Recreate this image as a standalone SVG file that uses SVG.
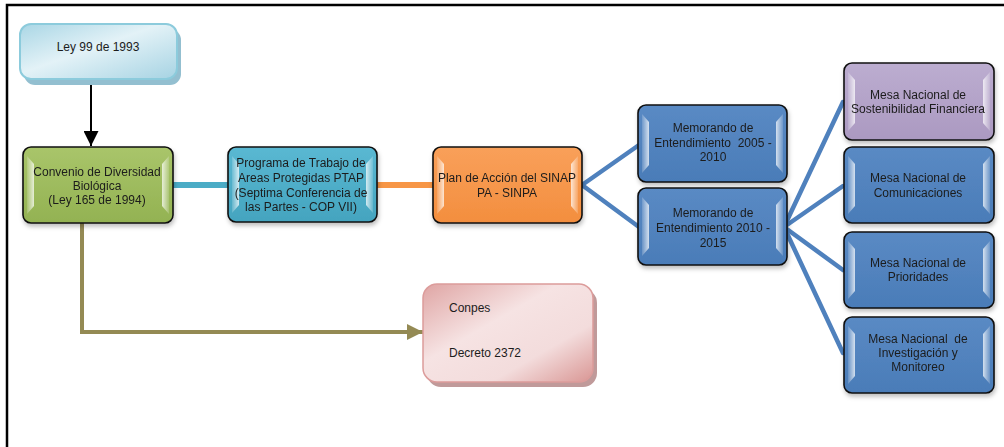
<svg xmlns="http://www.w3.org/2000/svg" width="1004" height="447" viewBox="0 0 1004 447">
  <defs>
    <style>
      .lbl { font-family: "Liberation Sans", Arial, sans-serif; font-size: 12px; fill: #1c1c1c; text-anchor: middle; white-space: pre; }
      .lbl-l { font-family: "Liberation Sans", Arial, sans-serif; font-size: 12px; fill: #1c1c1c; }
      .box { stroke: #111; stroke-width: 1.6; }
      .hl { fill: url(#shine); }
      .hr { fill: url(#shineR); }
    </style>
    <linearGradient id="shine" x1="0" y1="0" x2="1" y2="0">
      <stop offset="0" stop-color="#fff" stop-opacity="0.15"/>
      <stop offset="1" stop-color="#fff" stop-opacity="0.75"/>
    </linearGradient>
    <linearGradient id="shineR" x1="1" y1="0" x2="0" y2="0">
      <stop offset="0" stop-color="#fff" stop-opacity="0.15"/>
      <stop offset="1" stop-color="#fff" stop-opacity="0.75"/>
    </linearGradient>
    <linearGradient id="gGreen" x1="0" y1="0" x2="0" y2="1">
      <stop offset="0" stop-color="#a9c56a"/>
      <stop offset="1" stop-color="#93b252"/>
    </linearGradient>
    <linearGradient id="gTeal" x1="0" y1="0" x2="0" y2="1">
      <stop offset="0" stop-color="#5ab8d2"/>
      <stop offset="1" stop-color="#44a4bf"/>
    </linearGradient>
    <linearGradient id="gOrange" x1="0" y1="0" x2="0" y2="1">
      <stop offset="0" stop-color="#f9a05a"/>
      <stop offset="1" stop-color="#f38e3e"/>
    </linearGradient>
    <linearGradient id="gBlue" x1="0" y1="0" x2="0" y2="1">
      <stop offset="0" stop-color="#5a8ac4"/>
      <stop offset="1" stop-color="#4a7cb8"/>
    </linearGradient>
    <linearGradient id="gPurple" x1="0" y1="0" x2="0" y2="1">
      <stop offset="0" stop-color="#bcadd0"/>
      <stop offset="1" stop-color="#ab99c1"/>
    </linearGradient>
    <linearGradient id="gSky" x1="0" y1="0" x2="1" y2="1">
      <stop offset="0" stop-color="#a9d6e5"/>
      <stop offset="0.45" stop-color="#e3f2f7"/>
      <stop offset="1" stop-color="#a6d3e3"/>
    </linearGradient>
    <linearGradient id="gPink" x1="0" y1="0" x2="1" y2="1">
      <stop offset="0" stop-color="#dfa5a4"/>
      <stop offset="0.4" stop-color="#f6e3e3"/>
      <stop offset="0.7" stop-color="#f3dcdc"/>
      <stop offset="1" stop-color="#d99694"/>
    </linearGradient>
    <filter id="drop" x="-10%" y="-10%" width="125%" height="130%">
      <feDropShadow dx="1" dy="3" stdDeviation="2" flood-color="#000" flood-opacity="0.25"/>
    </filter>
    <marker id="arrowBlack" viewBox="0 0 10 10" refX="10" refY="5" markerWidth="15" markerHeight="15" markerUnits="userSpaceOnUse" orient="auto">
      <path d="M0,0 L10,5 L0,10 Z" fill="#000"/>
    </marker>
    <marker id="arrowOlive" viewBox="0 0 10 10" refX="10" refY="5" markerWidth="16" markerHeight="16" markerUnits="userSpaceOnUse" orient="auto">
      <path d="M0,0 L10,5 L0,10 Z" fill="#948a54"/>
    </marker>
  </defs>

  <!-- page frame -->
  <path d="M7,447 V5 H1004" fill="none" stroke="#000" stroke-width="2.5"/>

  <!-- connectors -->
  <g id="connectors" fill="none">
    <line x1="91" y1="79" x2="91" y2="146" stroke="#000" stroke-width="2" marker-end="url(#arrowBlack)"/>
    <line x1="173" y1="185" x2="228" y2="185" stroke="#4bacc6" stroke-width="6"/>
    <line x1="377" y1="185" x2="433" y2="185" stroke="#f79646" stroke-width="6"/>
    <polyline points="82,223 82,332 423,332" stroke="#948a54" stroke-width="4" marker-end="url(#arrowOlive)"/>
    <g stroke="#4f81bd" stroke-width="4.5" stroke-linecap="round">
      <line x1="582" y1="185" x2="639" y2="145"/>
      <line x1="582" y1="185" x2="639" y2="227"/>
      <line x1="784" y1="227" x2="843" y2="102"/>
      <line x1="784" y1="227" x2="843" y2="186"/>
      <line x1="784" y1="227" x2="843" y2="270"/>
      <line x1="784" y1="227" x2="843" y2="353"/>
    </g>
  </g>

  <!-- Ley 99 de 1993 -->
  <g id="ley99">
    <rect x="24" y="29" width="157" height="56" rx="11" fill="#93bfd0"/>
    <rect x="20" y="24" width="157" height="55" rx="11" fill="url(#gSky)" stroke="#8ccbdc" stroke-width="2"/>
    <text class="lbl" x="98" y="51">Ley 99 de 1993</text>
  </g>

  <!-- Convenio -->
  <g id="convenio" filter="url(#drop)">
    <rect class="box" x="23" y="147" width="150" height="76" rx="8" fill="url(#gGreen)"/>
    <polygon class="hl" points="27,156 34,164 34,206 27,214"/>
    <polygon class="hr" points="169,156 162,164 162,206 169,214"/>
    <text class="lbl" x="97" y="176">Convenio de Diversidad</text>
    <text class="lbl" x="97" y="190">Biológica</text>
    <text class="lbl" x="97" y="204">(Ley 165 de 1994)</text>
  </g>

  <!-- Programa de Trabajo -->
  <g id="programa" filter="url(#drop)">
    <rect class="box" x="228" y="147" width="149" height="75" rx="8" fill="url(#gTeal)"/>
    <polygon class="hl" points="232,156 239,164 239,205 232,213"/>
    <polygon class="hr" points="373,156 366,164 366,205 373,213"/>
    <text class="lbl" x="301" y="167">Programa de Trabajo de</text>
    <text class="lbl" x="301" y="182">Areas Protegidas PTAP</text>
    <text class="lbl" x="301" y="197">(Septima Conferencia de</text>
    <text class="lbl" x="301" y="211">las Partes - COP VII)</text>
  </g>

  <!-- Plan de Acción -->
  <g id="plan" filter="url(#drop)">
    <rect class="box" x="433" y="147" width="149" height="76" rx="8" fill="url(#gOrange)"/>
    <polygon class="hl" points="437,156 444,164 444,206 437,214"/>
    <polygon class="hr" points="578,156 571,164 571,206 578,214"/>
    <text class="lbl" x="507" y="182">Plan de Acción del SINAP</text>
    <text class="lbl" x="507" y="197">PA - SINPA</text>
  </g>

  <!-- Memorandos -->
  <g id="mem1" filter="url(#drop)">
    <rect class="box" x="638" y="105" width="149" height="77" rx="8" fill="url(#gBlue)"/>
    <polygon class="hl" points="642,114 649,122 649,165 642,173"/>
    <polygon class="hr" points="783,114 776,122 776,165 783,173"/>
    <text class="lbl" x="713" y="132">Memorando de</text>
    <text class="lbl" x="713" y="147" xml:space="preserve">Entendimiento  2005 -</text>
    <text class="lbl" x="713" y="161">2010</text>
  </g>
  <g id="mem2" filter="url(#drop)">
    <rect class="box" x="638" y="188" width="149" height="77" rx="8" fill="url(#gBlue)"/>
    <polygon class="hl" points="642,197 649,205 649,248 642,256"/>
    <polygon class="hr" points="783,197 776,205 776,248 783,256"/>
    <text class="lbl" x="713" y="217">Memorando de</text>
    <text class="lbl" x="713" y="232">Entendimiento 2010 -</text>
    <text class="lbl" x="713" y="247">2015</text>
  </g>

  <!-- Mesas Nacionales -->
  <g id="mesa1" filter="url(#drop)">
    <rect class="box" x="844" y="63" width="150" height="77" rx="8" fill="url(#gPurple)"/>
    <polygon class="hl" points="848,72 855,80 855,123 848,131"/>
    <polygon class="hr" points="990,72 983,80 983,123 990,131"/>
    <text class="lbl" x="918" y="99">Mesa Nacional de</text>
    <text class="lbl" x="918" y="113">Sostenibilidad Financiera</text>
  </g>
  <g id="mesa2" filter="url(#drop)">
    <rect class="box" x="844" y="147" width="150" height="76" rx="8" fill="url(#gBlue)"/>
    <polygon class="hl" points="848,156 855,164 855,206 848,214"/>
    <polygon class="hr" points="990,156 983,164 983,206 990,214"/>
    <text class="lbl" x="918" y="182">Mesa Nacional de</text>
    <text class="lbl" x="918" y="197">Comunicaciones</text>
  </g>
  <g id="mesa3" filter="url(#drop)">
    <rect class="box" x="844" y="232" width="150" height="76" rx="8" fill="url(#gBlue)"/>
    <polygon class="hl" points="848,241 855,249 855,291 848,299"/>
    <polygon class="hr" points="990,241 983,249 983,291 990,299"/>
    <text class="lbl" x="918" y="267">Mesa Nacional de</text>
    <text class="lbl" x="918" y="281">Prioridades</text>
  </g>
  <g id="mesa4" filter="url(#drop)">
    <rect class="box" x="844" y="317" width="150" height="76" rx="8" fill="url(#gBlue)"/>
    <polygon class="hl" points="848,326 855,334 855,376 848,384"/>
    <polygon class="hr" points="990,326 983,334 983,376 990,384"/>
    <text class="lbl" x="918" y="343" xml:space="preserve">Mesa Nacional  de</text>
    <text class="lbl" x="918" y="357">Investigación y</text>
    <text class="lbl" x="918" y="371">Monitoreo</text>
  </g>

  <!-- Conpes / Decreto -->
  <g id="conpes">
    <rect x="427" y="289" width="170" height="98" rx="14" fill="#c09a9a"/>
    <rect x="423" y="284" width="170" height="98" rx="14" fill="url(#gPink)" stroke="#dc9c9b" stroke-width="1.5"/>
    <text class="lbl-l" x="449" y="312">Conpes</text>
    <text class="lbl-l" x="449" y="357">Decreto 2372</text>
  </g>
</svg>
